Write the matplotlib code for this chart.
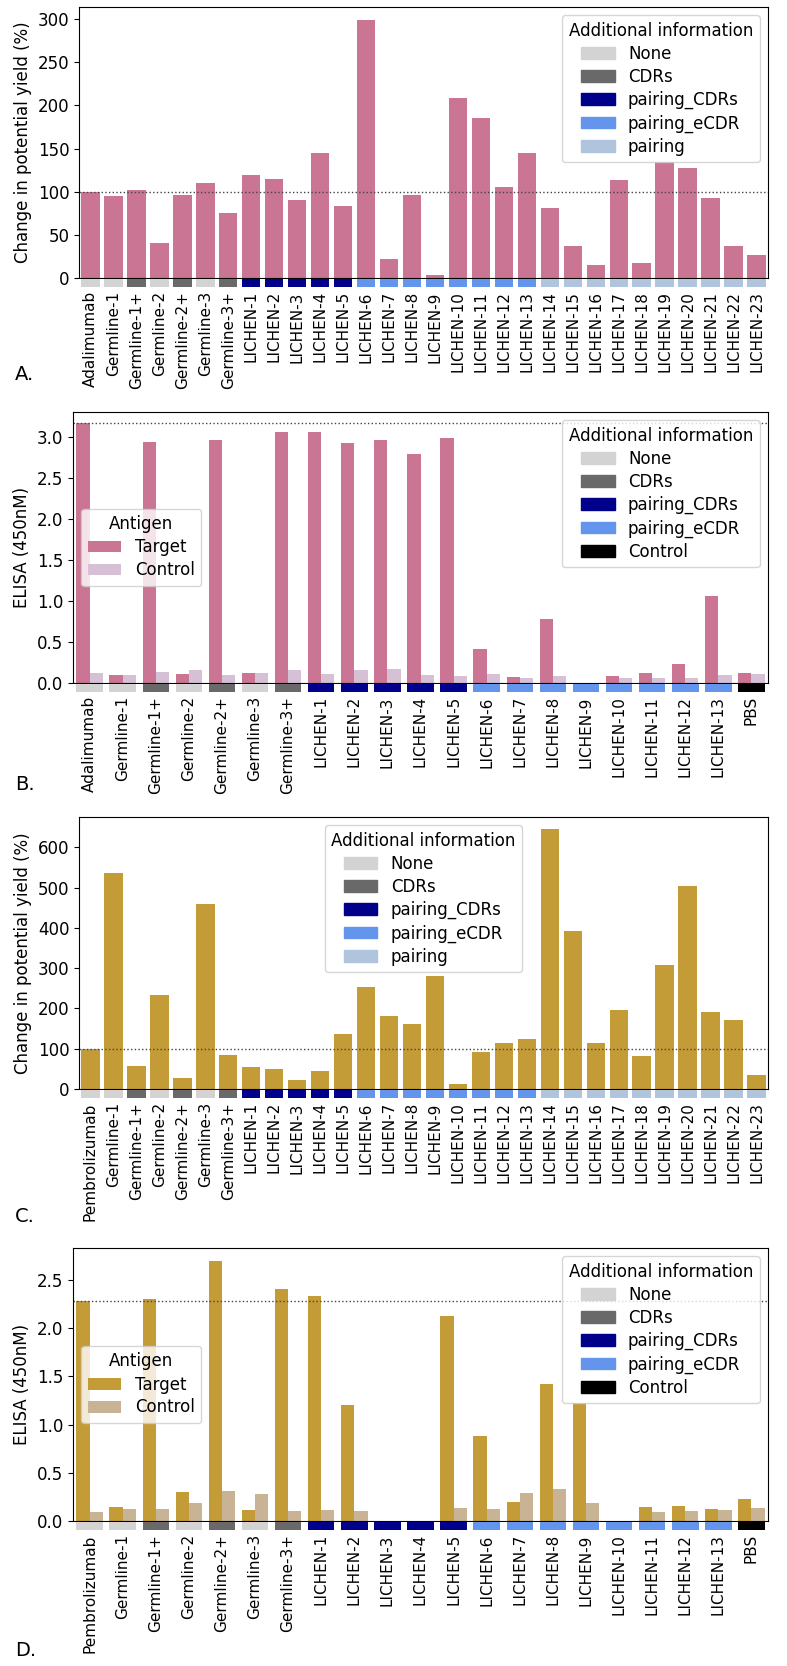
import numpy as np
import matplotlib.pyplot as plt
from matplotlib.patches import Patch

# ---- data ----
germline = ["Germline-1", "Germline-1+", "Germline-2", "Germline-2+", "Germline-3", "Germline-3+"]
germline_info = ["None", "CDRs", "None", "CDRs", "None", "CDRs"]

yield_names_a = ["Adalimumab"] + germline + [f"LICHEN-{i}" for i in range(1, 24)]
yield_a = [100, 95, 102, 41, 96, 110, 75,
           119, 115, 90, 145, 84, 299, 22, 96, 3.5, 208, 185, 106, 145,
           81, 37, 15, 113, 17, 134, 128, 93, 37, 27]
info_yield = (["None"] + germline_info + ["pairing_CDRs"] * 5
              + ["pairing_eCDR"] * 8 + ["pairing"] * 10)

elisa_names_b = ["Adalimumab"] + germline + [f"LICHEN-{i}" for i in range(1, 14)] + ["PBS"]
elisa_target_b = [3.16, 0.10, 2.94, 0.11, 2.96, 0.12, 3.06,
                  3.06, 2.92, 2.96, 2.79, 2.98, 0.42, 0.07, 0.78, 0.0,
                  0.085, 0.12, 0.23, 1.06, 0.12]
elisa_control_b = [0.12, 0.10, 0.13, 0.155, 0.10, 0.12, 0.155,
                   0.11, 0.155, 0.165, 0.10, 0.085, 0.11, 0.06, 0.085, 0.0,
                   0.06, 0.06, 0.06, 0.10, 0.11]
info_elisa = (["None"] + germline_info + ["pairing_CDRs"] * 5
              + ["pairing_eCDR"] * 8 + ["Control"])

yield_names_c = ["Pembrolizumab"] + germline + [f"LICHEN-{i}" for i in range(1, 24)]
yield_c = [100, 537, 57, 234, 27, 460, 84,
           54, 50, 22, 44, 136, 253, 180, 162, 281, 12, 91, 113, 123,
           645, 391, 113, 195, 81, 307, 504, 192, 172, 34]

elisa_names_d = ["Pembrolizumab"] + germline + [f"LICHEN-{i}" for i in range(1, 14)] + ["PBS"]
elisa_target_d = [2.285, 0.145, 2.305, 0.30, 2.70, 0.115, 2.41,
                  2.33, 1.205, 0.0, 0.0, 2.12, 0.886, 0.197, 1.42, 1.22,
                  0.0, 0.145, 0.156, 0.125, 0.23]
elisa_control_d = [0.093, 0.125, 0.125, 0.187, 0.31, 0.28, 0.104,
                   0.114, 0.104, 0.0, 0.0, 0.135, 0.125, 0.29, 0.33, 0.187,
                   0.0, 0.093, 0.104, 0.114, 0.135]

info_colors = {"None": "#d3d3d3", "CDRs": "#696969", "pairing_CDRs": "#00008b",
               "pairing_eCDR": "#6495ed", "pairing": "#b0c4de", "Control": "black"}

PINK, PINK_CTRL = "#c97593", "#d5c0d6"
GOLD, GOLD_CTRL = "#c39b37", "#c9b395"

W, H = 787, 1666
fig = plt.figure(figsize=(W / 100, H / 100), dpi=100)


def box(l, t, r, b):
    return [l / W, 1 - b / H, (r - l) / W, (b - t) / H]


def make_axes(l, t, r, b):
    ax = fig.add_axes(box(l, t, r, b))
    strip = fig.add_axes(box(l, b + 1, r, b + 9), sharex=ax)
    return ax, strip


def draw_strip(strip, names, info):
    x = np.arange(len(names))
    strip.bar(x, [1] * len(names), width=0.8, color=[info_colors[i] for i in info])
    strip.set_ylim(0, 1)
    strip.set_yticks([])
    for s in strip.spines.values():
        s.set_visible(False)
    strip.set_xticks(x)
    strip.set_xticklabels(names, rotation=90, fontsize=11)
    strip.tick_params(axis="x", length=0, pad=3)


def info_legend(ax, keys, **kw):
    handles = [Patch(color=info_colors[k], label=k) for k in keys]
    return ax.legend(handles=handles, title="Additional information",
                     fontsize=12, title_fontsize=12, labelspacing=0.3, **kw)


def yield_panel(box_px, names, values, color, yticks, ylim, leg_loc):
    ax, strip = make_axes(*box_px)
    x = np.arange(len(names))
    ax.bar(x, values, width=0.8, color=color)
    ax.axhline(100, color="#444444", ls=":", lw=1)
    ax.set_xlim(-0.5, len(names) - 0.5)
    ax.set_ylim(*ylim)
    ax.set_yticks(yticks)
    ax.tick_params(axis="y", labelsize=12)
    ax.tick_params(axis="x", labelbottom=False)
    ax.set_ylabel("Change in potential yield (%)", fontsize=12)
    info_legend(ax, ["None", "CDRs", "pairing_CDRs", "pairing_eCDR", "pairing"], loc=leg_loc)
    draw_strip(strip, names, info_yield)


def elisa_panel(box_px, names, target, control, c_t, c_c, yticks, ylim):
    ax, strip = make_axes(*box_px)
    x = np.arange(len(names))
    ax.bar(x - 0.2, target, width=0.4, color=c_t, label="Target")
    ax.bar(x + 0.2, control, width=0.4, color=c_c, label="Control")
    ax.axhline(target[0], color="#444444", ls=":", lw=1)
    ax.set_xlim(-0.5, len(names) - 0.5)
    ax.set_ylim(*ylim)
    ax.set_yticks(yticks)
    ax.tick_params(axis="y", labelsize=12)
    ax.tick_params(axis="x", labelbottom=False)
    ax.set_ylabel("ELISA (450nM)", fontsize=12)
    leg1 = ax.legend(title="Antigen", loc="center left", fontsize=12,
                     title_fontsize=12, labelspacing=0.3)
    ax.add_artist(leg1)
    info_legend(ax, ["None", "CDRs", "pairing_CDRs", "pairing_eCDR", "Control"], loc="upper right")
    draw_strip(strip, names, info_elisa)


yield_panel((79, 7, 768, 278), yield_names_a, yield_a, PINK,
            np.arange(0, 301, 50), (0, 314), "upper right")
elisa_panel((73, 412, 768, 683), elisa_names_b, elisa_target_b, elisa_control_b,
            PINK, PINK_CTRL, np.arange(0, 3.01, 0.5), (0, 3.30))
yield_panel((79, 817, 768, 1089), yield_names_c, yield_c, GOLD,
            np.arange(0, 601, 100), (0, 675), "upper center")
elisa_panel((73, 1248, 768, 1521), elisa_names_d, elisa_target_d, elisa_control_d,
            GOLD, GOLD_CTRL, np.arange(0, 2.51, 0.5), (0, 2.83))

for letter, y in [("A.", 375), ("B.", 785), ("C.", 1216), ("D.", 1650)]:
    fig.text(15 / W, 1 - y / H, letter, fontsize=14, va="center", ha="left")

fig.savefig("out.png", dpi=100)
